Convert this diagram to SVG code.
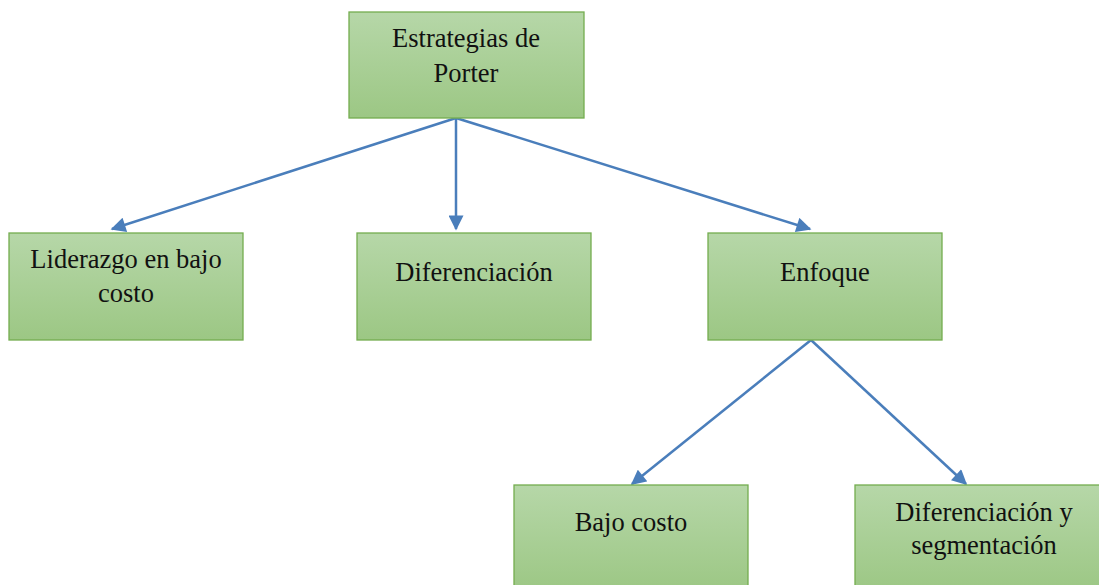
<svg xmlns="http://www.w3.org/2000/svg" width="1099" height="585" viewBox="0 0 1099 585">
<defs>
<linearGradient id="g" x1="0" y1="0" x2="0" y2="1">
<stop offset="0" stop-color="#b6d7a8"/>
<stop offset="1" stop-color="#9cc784"/>
</linearGradient>
<marker id="ah" viewBox="0 0 10 10" refX="9" refY="5" markerWidth="6.5" markerHeight="6" orient="auto" markerUnits="strokeWidth">
<path d="M0,0 L10,5 L0,10 z" fill="#4a7ebb"/>
</marker>
<style>
.box{fill:url(#g);stroke:#74ad4f;stroke-width:1.3}
.t{font-family:"Liberation Serif","Times New Roman",serif;font-size:26.5px;fill:#111;text-anchor:middle}
.c{stroke:#4a7ebb;stroke-width:2.5;fill:none;marker-end:url(#ah)}
</style>
</defs>
<rect width="1099" height="585" fill="#fff"/>
<g id="connectors">
<line class="c" x1="456" y1="118" x2="112" y2="229"/>
<line class="c" x1="456" y1="118" x2="456" y2="229"/>
<line class="c" x1="456" y1="118" x2="810" y2="229"/>
<line class="c" x1="811" y1="340" x2="632" y2="484"/>
<line class="c" x1="811" y1="340" x2="966" y2="484"/>
</g>
<g id="n-porter">
<rect class="box" x="349" y="12" width="235" height="106"/>
<text class="t" x="466" y="47">Estrategias de</text>
<text class="t" x="466" y="82">Porter</text>
</g>
<g id="n-liderazgo">
<rect class="box" x="9" y="233" width="234" height="107"/>
<text class="t" x="126" y="268">Liderazgo en bajo</text>
<text class="t" x="126" y="302">costo</text>
</g>
<g id="n-diferenciacion">
<rect class="box" x="357" y="233" width="234" height="107"/>
<text class="t" x="474" y="281">Diferenciación</text>
</g>
<g id="n-enfoque">
<rect class="box" x="708" y="233" width="234" height="107"/>
<text class="t" x="825" y="281">Enfoque</text>
</g>
<g id="n-bajo">
<rect class="box" x="514" y="485" width="234" height="107"/>
<text class="t" x="631" y="531">Bajo costo</text>
</g>
<g id="n-difseg">
<rect class="box" x="855" y="485" width="250" height="107"/>
<text class="t" x="984" y="521">Diferenciación y</text>
<text class="t" x="984" y="554">segmentación</text>
</g>
</svg>
